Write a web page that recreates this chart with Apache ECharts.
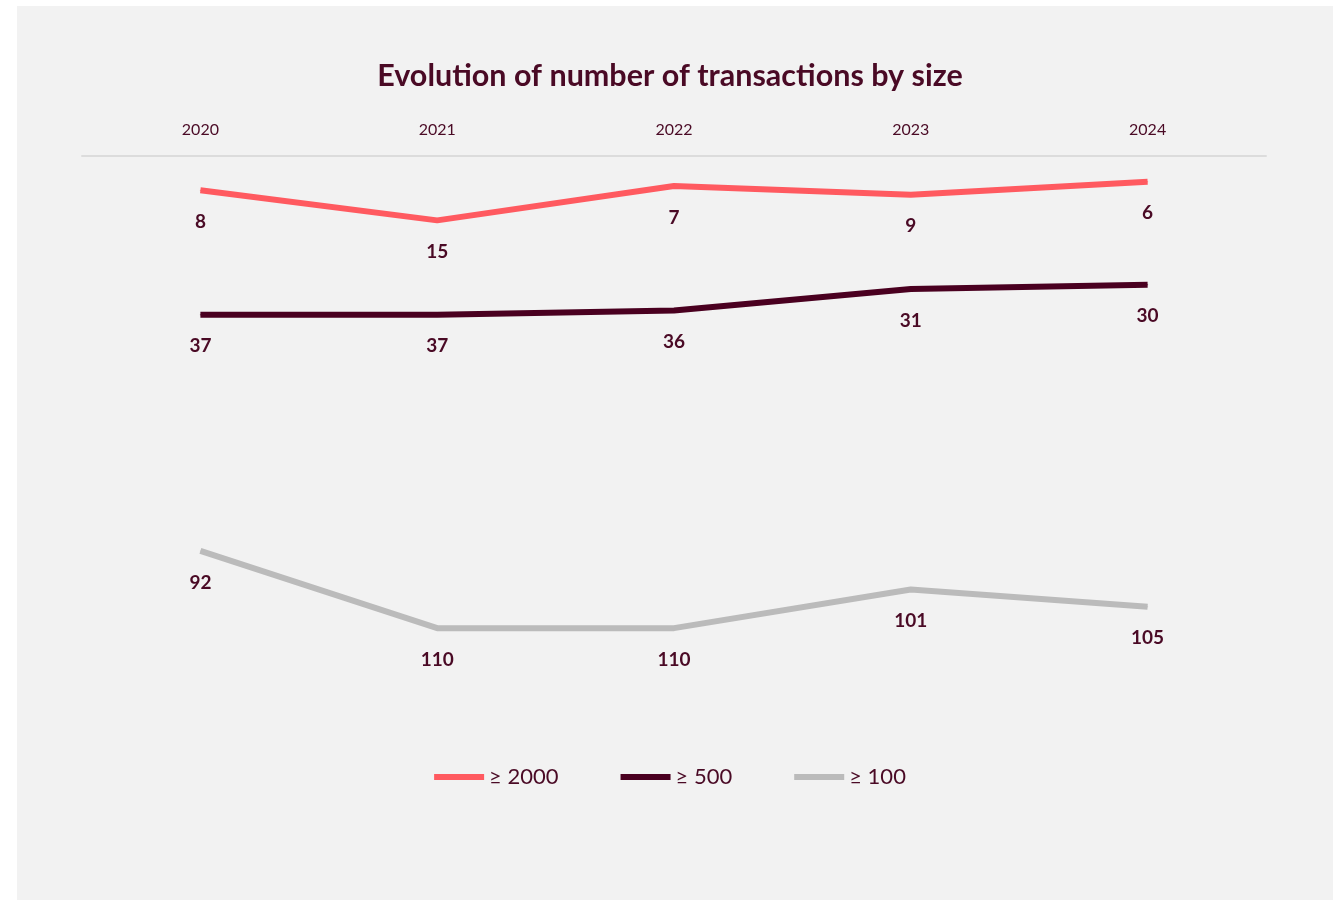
<!DOCTYPE html>
<html><head><meta charset="utf-8">
<script src="https://cdn.jsdelivr.net/npm/echarts@6/dist/echarts.min.js"></script>
<style>html,body{margin:0;padding:0;background:#fff}#c{width:1340px;height:900px}</style>
</head><body><div id="c"></div>
<script>
const years = ['2020','2021','2022','2023','2024'];
const s2000 = [8, 15, 7, 9, 6];
const s500 = [37, 37, 36, 31, 30];
const s100 = [92, 110, 110, 101, 105];
const names = ['≥ 2000', '≥ 500', '≥ 100'];
const colors = ['#ff5a60', '#4a0020', '#bbbbbb'];
const txt = '#4a0a25';
const font = 'Lato, "Open Sans", sans-serif';

const chart = echarts.init(document.getElementById('c'));
function mk(name, data, color) {
  return {
    name, type: 'line', data,
    symbol: 'circle', symbolSize: 1,
    itemStyle: { color },
    lineStyle: { color, width: 6 },
    label: { show: true, position: 'bottom', distance: 21.5, color: txt, fontSize: 19, fontWeight: 'bold', fontFamily: font },
    emphasis: { disabled: true }
  };
}
chart.setOption({
  animation: false,
  textStyle: { fontFamily: font },
  graphic: [{ type: 'rect', z: -10, shape: { x: 17, y: 6, width: 1316, height: 894 }, style: { fill: '#f2f2f2' } }],
  title: { text: 'Evolution of number of transactions by size', left: 'center', top: 56,
    textStyle: { color: txt, fontSize: 30.5, fontWeight: 'bold', fontFamily: font } },
  legend: { bottom: 107, left: 'center', itemWidth: 50, itemHeight: 6, itemGap: 62, icon: 'rect',
    textStyle: { color: txt, fontSize: 22, fontFamily: font },
    data: names.map((n, i) => ({ name: n, itemStyle: { color: colors[i] } })) },
  grid: { left: 82, right: 74, top: 156, bottom: 186, containLabel: false },
  xAxis: { type: 'category', data: years, position: 'top', boundaryGap: true,
    axisLine: { lineStyle: { color: '#dcdcdc', width: 2 } }, axisTick: { show: false },
    axisLabel: { color: txt, fontSize: 16, margin: 18, fontFamily: font } },
  yAxis: { type: 'value', inverse: true, min: 0, max: 130, show: false, splitLine: { show: false } },
  series: [mk(names[0], s2000, colors[0]), mk(names[1], s500, colors[1]), mk(names[2], s100, colors[2])]
});
</script></body></html>
